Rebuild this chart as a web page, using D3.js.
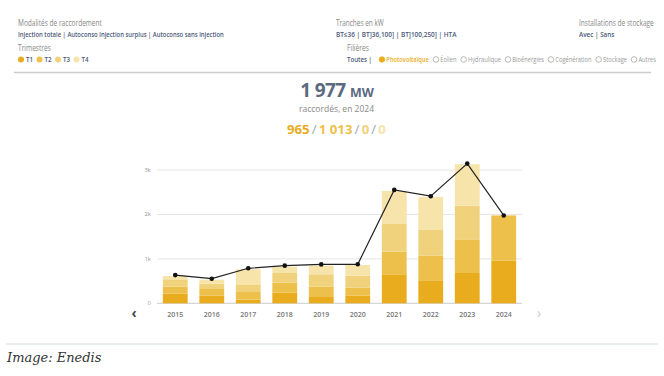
<!DOCTYPE html>
<html lang="fr">
  <head>
    <meta charset="UTF-8"/>
    <title>Raccordements</title>
    <script src="https://d3js.org/d3.v7.min.js"></script>
    <style>
        body { margin: 0; background: #fff; font-family: "Open Sans", sans-serif; }
        .lbl { fill: #888; font-size: 8.5px; }
        .opt { fill: #4a5878; font-size: 7px; font-weight: 600; }
        .axis text { fill: #999; font-size: 6px; }
        .xlab { fill: #777; font-size: 7px; font-weight: 600; }
    </style>
  </head>
  <body>
    <script>
        // data (MW)
        const years = ["2015", "2016", "2017", "2018", "2019", "2020", "2021", "2022", "2023", "2024"]
        const quarters = ["T1", "T2", "T3", "T4"]
        const t1 = [216, 171, 81, 239, 142, 171, 653, 518, 682, 965]
        const t2 = [158, 151, 173, 225, 232, 180, 509, 554, 744, 1013]
        const t3 = [166, 119, 158, 218, 279, 271, 624, 579, 772, 0]
        const t4 = [75, 91, 353, 142, 194, 240, 743, 743, 932, 0]
        const lineTotal = [635, 554, 788, 847, 875, 878, 2552, 2410, 3144, 1977]
        const yTicks = [0, 1000, 2000, 3000]
        const colors = ["#e8ac1e", "#edc04c", "#f0d27c", "#f6e4ab"]

        const W = 664, H = 376
        const svg = d3.select("body").append("svg")
            .attr("width", W)
            .attr("height", H)

        // squeeze a text horizontally to a given width (the original font is narrower)
        function fit(sel, w) {
          const x0 = +sel.attr("x")
          const k = w / sel.node().getBBox().width
          sel.attr("transform", `translate(${x0},0) scale(${k},1) translate(${-x0},0)`)
          return sel
        }

        // ---- filter header ----
        const head = svg.append("g")
        fit(head.append("text").attr("class", "lbl").attr("x", 18).attr("y", 26.5).text("Modalités de raccordement"), 84)
        fit(head.append("text").attr("class", "opt").attr("x", 18).attr("y", 37)
            .text("Injection totale  |  Autoconso injection surplus  |  Autoconso sans injection"), 206)
        fit(head.append("text").attr("class", "lbl").attr("x", 18).attr("y", 51.5).text("Trimestres"), 33)

        let qx = 18
        quarters.forEach((q, i) => {
          head.append("circle").attr("cx", qx + 3).attr("cy", 59.5).attr("r", 3).attr("fill", colors[i])
          fit(head.append("text").attr("class", "opt").attr("x", qx + 8).attr("y", 62).text(q), 7)
          qx += 18.5
        })

        fit(head.append("text").attr("class", "lbl").attr("x", 336).attr("y", 26.5).text("Tranches en kW"), 48)
        fit(head.append("text").attr("class", "opt").attr("x", 336).attr("y", 37)
            .text("BT≤36  |  BT]36,100]  |  BT]100,250]  |  HTA"), 121)
        fit(head.append("text").attr("class", "lbl").attr("x", 579).attr("y", 26.5).text("Installations de stockage"), 75)
        fit(head.append("text").attr("class", "opt").attr("x", 579).attr("y", 37).text("Avec  |  Sans"), 36)
        fit(head.append("text").attr("class", "lbl").attr("x", 347).attr("y", 51.5).text("Filières"), 22)

        const filieres = ["Photovoltaïque", "Éolien", "Hydraulique", "Bioénergies", "Cogénération", "Stockage", "Autres"]
        const row = head.append("g")
        row.append("text").attr("class", "opt").attr("x", 0).attr("y", 62).text("Toutes  |")
        let fx = 37
        filieres.forEach((f, i) => {
          const on = i === 0
          row.append("circle").attr("cx", fx + 3).attr("cy", 59.5).attr("r", 2.8)
              .attr("fill", on ? "#e8ac1e" : "none")
              .attr("stroke", on ? "#e8ac1e" : "#999").attr("stroke-width", 0.7)
          const t = row.append("text").attr("x", fx + 8).attr("y", 62)
              .attr("font-size", "6.6px")
              .attr("fill", on ? "#e8ac1e" : "#999")
              .attr("font-weight", on ? 600 : 400)
              .text(f)
          fx += 8 + t.node().getComputedTextLength() + 5
        })
        const rowW = row.node().getBBox().width
        row.attr("transform", `translate(347,0) scale(${309 / rowW},1)`)
        row.selectAll("circle").attr("transform", function () {
          // keep the dots round after the horizontal squeeze
          const cx = +this.getAttribute("cx"), k = 309 / rowW
          return `translate(${cx},0) scale(${1 / k},1) translate(${-cx},0)`
        })

        svg.append("line").attr("x1", 14).attr("x2", 651).attr("y1", 72.5).attr("y2", 72.5)
            .attr("stroke", "#ccc").attr("stroke-width", 1.5)

        // ---- headline ----
        const fmt = v => d3.format(",")(v).replace(/,/g, " ")
        const big = svg.append("text").attr("x", 337).attr("y", 97).attr("text-anchor", "middle")
            .attr("fill", "#5b6a80").attr("font-weight", 700)
        big.append("tspan").attr("font-size", "19px").attr("letter-spacing", "-0.6px").text(fmt(1977) + " ")
        big.append("tspan").attr("font-size", "12.5px").text("MW")
        svg.append("text").attr("x", 336.5).attr("y", 112).attr("text-anchor", "middle")
            .attr("fill", "#888").attr("font-size", "8.5px").text("raccordés, en 2024")

        const parts = [t1[9], t2[9], t3[9], t4[9]]
        const sub = svg.append("text").attr("x", 336.5).attr("y", 134).attr("text-anchor", "middle")
            .attr("font-size", "13px").attr("font-weight", 700)
        parts.forEach((v, i) => {
          if (i > 0) sub.append("tspan").attr("fill", "#9aa").attr("font-weight", 400).text("\u2009/\u2009")
          sub.append("tspan").attr("fill", colors[i]).text(fmt(v))
        })
        fit(sub, 99)

        // ---- chart ----
        const x = d3.scaleBand().domain(years).range([157, 522]).paddingInner(0.32).paddingOuter(0.16)
        const y = d3.scaleLinear().domain([0, 3000]).range([303.3, 170])

        svg.append("g").selectAll("line").data(yTicks).join("line")
            .attr("x1", 157).attr("x2", 522)
            .attr("y1", d => y(d)).attr("y2", d => y(d))
            .attr("stroke", d => d === 0 ? "#ccc" : "#e6e6e6")

        svg.append("g").attr("class", "axis").selectAll("text").data(yTicks).join("text")
            .attr("x", 151).attr("y", d => y(d) + 2).attr("text-anchor", "end")
            .text(d => d === 0 ? "0" : d / 1000 + "k")

        const rows = years.map((yr, i) => ({year: yr, T1: t1[i], T2: t2[i], T3: t3[i], T4: t4[i]}))
        const stack = d3.stack().keys(quarters)(rows)

        svg.append("g").selectAll("g").data(stack).join("g")
            .attr("fill", (d, i) => colors[i])
          .selectAll("rect").data(d => d).join("rect")
            .attr("x", d => x(d.data.year))
            .attr("width", x.bandwidth())
            .attr("y", d => y(d[1]))
            .attr("height", d => y(d[0]) - y(d[1]))

        const line = d3.line().x((d, i) => x(years[i]) + x.bandwidth() / 2).y(d => y(d))
        svg.append("path").datum(lineTotal).attr("d", line)
            .attr("fill", "none").attr("stroke", "#222").attr("stroke-width", 1.2)
        svg.append("g").selectAll("circle").data(lineTotal).join("circle")
            .attr("cx", (d, i) => x(years[i]) + x.bandwidth() / 2)
            .attr("cy", d => y(d)).attr("r", 2.3).attr("fill", "#111")

        svg.append("g").selectAll("text").data(years).join("text")
            .attr("class", "xlab")
            .attr("x", d => x(d) + x.bandwidth() / 2).attr("y", 316.5)
            .attr("text-anchor", "middle").text(d => d)

        svg.append("text").attr("x", 134).attr("y", 318).attr("text-anchor", "middle")
            .attr("font-size", "14px").attr("font-weight", 700).attr("fill", "#444").text("‹")
        svg.append("text").attr("x", 539).attr("y", 318).attr("text-anchor", "middle")
            .attr("font-size", "14px").attr("fill", "#ccc").text("›")

        // ---- caption ----
        svg.append("line").attr("x1", 6).attr("x2", 658).attr("y1", 344).attr("y2", 344)
            .attr("stroke", "#d4dde2").attr("stroke-width", 1)
        svg.append("text").attr("x", 7).attr("y", 362)
            .attr("font-family", "'DejaVu Serif', serif").attr("font-style", "italic")
            .attr("font-size", "13px").attr("fill", "#333").text("Image: Enedis")
    </script>
  </body>
</html>
